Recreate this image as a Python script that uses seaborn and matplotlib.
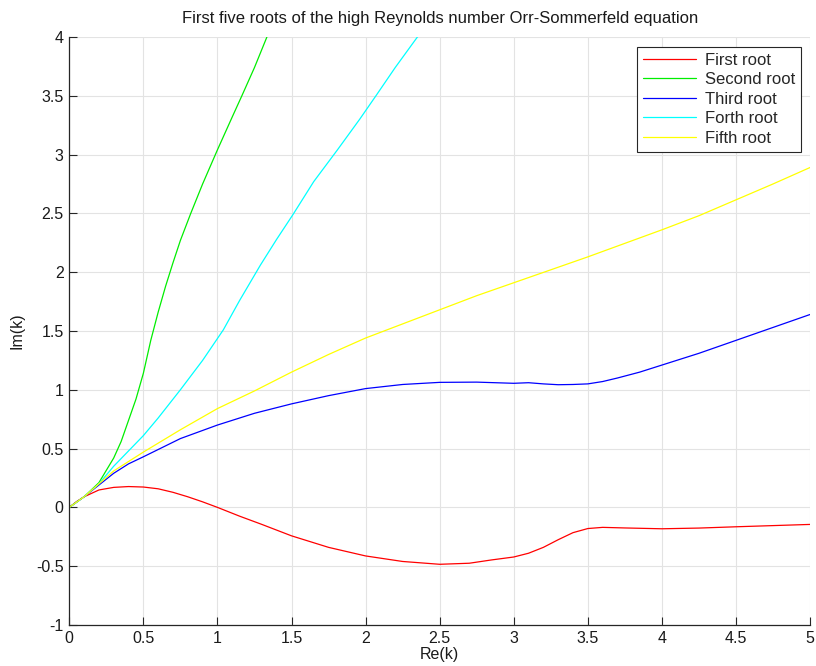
import numpy as np
import pandas as pd
import matplotlib
matplotlib.use("Agg")
import matplotlib.pyplot as plt
import seaborn as sns

# Re(k) sample points and Im(k) of each root
x_first = [0, 0.05, 0.1, 0.2, 0.3, 0.4, 0.5, 0.6, 0.7, 0.8, 0.9, 1.0, 1.15, 1.3, 1.5,
           1.75, 2.0, 2.25, 2.5, 2.7, 2.85, 3.0, 3.1, 3.2, 3.3, 3.4, 3.5, 3.6, 3.75,
           4.0, 4.25, 4.5, 4.75, 5.0]
y_first = [0, 0.05, 0.09, 0.148, 0.17, 0.177, 0.173, 0.158, 0.128, 0.09, 0.047, 0.0,
           -0.075, -0.145, -0.242, -0.34, -0.413, -0.46, -0.484, -0.475, -0.447, -0.422,
           -0.39, -0.34, -0.275, -0.215, -0.18, -0.17, -0.175, -0.182, -0.176, -0.165,
           -0.155, -0.145]

x_second = [0, 0.1, 0.2, 0.3, 0.35, 0.4, 0.45, 0.5, 0.55, 0.6, 0.65, 0.7, 0.75, 0.82,
            0.9, 1.0, 1.1, 1.165, 1.25, 1.334, 1.4]
y_second = [0, 0.09, 0.21, 0.42, 0.56, 0.74, 0.92, 1.14, 1.42, 1.66, 1.88, 2.08, 2.27,
            2.5, 2.75, 3.04, 3.32, 3.5, 3.74, 4.0, 4.18]

x_third = [0, 0.1, 0.2, 0.3, 0.4, 0.5, 0.75, 1.0, 1.25, 1.5, 1.75, 2.0, 2.25, 2.5, 2.75,
           3.0, 3.1, 3.2, 3.3, 3.4, 3.5, 3.6, 3.7, 3.85, 4.0, 4.25, 4.5, 4.75, 5.0]
y_third = [0, 0.09, 0.19, 0.29, 0.37, 0.43, 0.585, 0.70, 0.80, 0.88, 0.95, 1.01, 1.045,
           1.063, 1.065, 1.055, 1.06, 1.05, 1.043, 1.045, 1.05, 1.07, 1.1, 1.15, 1.21,
           1.31, 1.42, 1.53, 1.64]

x_fourth = [0, 0.1, 0.2, 0.3, 0.4, 0.5, 0.6, 0.75, 0.9, 1.04, 1.15, 1.29, 1.4, 1.51,
            1.65, 1.81, 1.96, 2.07, 2.2, 2.35, 2.42]
y_fourth = [0, 0.09, 0.2, 0.35, 0.48, 0.61, 0.76, 1.0, 1.25, 1.51, 1.76, 2.06, 2.28,
            2.49, 2.77, 3.04, 3.3, 3.5, 3.74, 4.0, 4.12]

x_fifth = [0, 0.1, 0.2, 0.3, 0.4, 0.5, 0.75, 1.0, 1.25, 1.5, 1.75, 2.0, 2.25, 2.5, 2.75,
           3.0, 3.25, 3.5, 3.75, 4.0, 4.25, 4.5, 4.75, 5.0]
y_fifth = [0, 0.09, 0.2, 0.31, 0.39, 0.47, 0.66, 0.84, 0.99, 1.15, 1.3, 1.44, 1.56,
           1.68, 1.80, 1.91, 2.02, 2.13, 2.245, 2.36, 2.48, 2.615, 2.75, 2.89]

root_names = ["First root", "Second root", "Third root", "Forth root", "Fifth root"]
root_colors = ["#ff0000", "#00ee00", "#0000ff", "#00ffff", "#ffff00"]

x_ticks = [0, 0.5, 1, 1.5, 2, 2.5, 3, 3.5, 4, 4.5, 5]
y_ticks = [-1, -0.5, 0, 0.5, 1, 1.5, 2, 2.5, 3, 3.5, 4]

series = [(x_first, y_first), (x_second, y_second), (x_third, y_third),
          (x_fourth, y_fourth), (x_fifth, y_fifth)]
frames = []
for name, (xs, ys) in zip(root_names, series):
    frames.append(pd.DataFrame({"Re": xs, "Im": ys, "root": name}))
df = pd.concat(frames, ignore_index=True)

sns.set_theme(style="white")
plt.rcParams["font.family"] = ["Liberation Sans", "DejaVu Sans"]

fig = plt.figure(figsize=(8.16, 6.66), dpi=100)
ax = fig.add_axes([0.0849, 0.0616, 0.9078, 0.8829])

sns.lineplot(data=df, x="Re", y="Im", hue="root", hue_order=root_names,
             palette=dict(zip(root_names, root_colors)), sort=False,
             estimator=None, linewidth=0.9, ax=ax)

ax.set_xlim(0, 5)
ax.set_ylim(-1, 4)
ax.set_xticks(x_ticks)
ax.set_xticklabels([f"{t:g}" for t in x_ticks])
ax.set_yticks(y_ticks)
ax.set_yticklabels([f"{t:g}" for t in y_ticks])
ax.grid(True, color="#e3e3e3", linewidth=0.8)
ax.set_axisbelow(True)

for side in ["top", "right"]:
    ax.spines[side].set_visible(False)
for side in ["left", "bottom"]:
    ax.spines[side].set_color("#262626")
    ax.spines[side].set_linewidth(0.9)

ax.tick_params(axis="both", direction="in", length=6, width=0.8, color="#262626",
               labelsize=11.5, labelcolor="#1a1a1a", pad=4, left=True, bottom=True)

ax.set_xlabel("Re(k)", fontsize=11.5, color="#1a1a1a", labelpad=1)
ax.set_ylabel("Im(k)", fontsize=11.5, color="#1a1a1a", labelpad=8)
ax.set_title("First five roots of the high Reynolds number Orr-Sommerfeld equation",
             fontsize=12, color="#1a1a1a", pad=10)

leg = ax.legend(loc="upper right", bbox_to_anchor=(0.9875, 0.983), fontsize=12,
                frameon=True, fancybox=False, handlelength=3.2, handletextpad=0.5,
                borderpad=0.35, labelspacing=0.27, borderaxespad=0.0)
leg.get_frame().set_edgecolor("#262626")
leg.get_frame().set_linewidth(0.8)
leg.get_frame().set_alpha(1)

fig.savefig("out.png", dpi=100)
